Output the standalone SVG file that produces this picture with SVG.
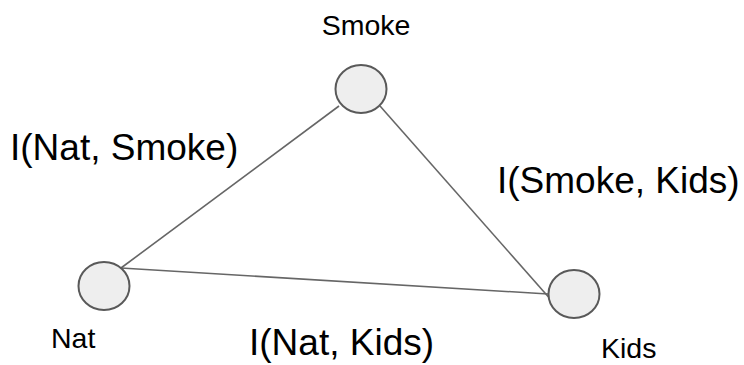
<svg xmlns="http://www.w3.org/2000/svg" width="744" height="365" viewBox="0 0 744 365">
  <style>
    .node { fill: #eeeeee; stroke: #595959; stroke-width: 2; }
    .edge { stroke: #666666; stroke-width: 1.6; fill: none; }
    .name { font-family: "Liberation Sans", Arial, sans-serif; font-size: 28.5px; fill: #000; }
    .mi { font-family: "Liberation Sans", Arial, sans-serif; font-size: 37px; fill: #000; }
  </style>
  <rect width="744" height="365" fill="#ffffff"/>
  <g id="connectors">
    <line class="edge" x1="121" y1="268" x2="339" y2="106"/>
    <line class="edge" x1="121" y1="268" x2="548" y2="294"/>
    <line class="edge" x1="380" y1="106" x2="552" y2="301"/>
  </g>
  <g id="node-smoke">
    <ellipse class="node" cx="361" cy="89" rx="25.5" ry="24"/>
    <text class="name" x="366" y="35" text-anchor="middle">Smoke</text>
  </g>
  <g id="node-nat">
    <ellipse class="node" cx="104" cy="286" rx="25.5" ry="24"/>
    <text class="name" x="51" y="348">Nat</text>
  </g>
  <g id="node-kids">
    <ellipse class="node" cx="574" cy="294" rx="25.5" ry="24"/>
    <text class="name" x="601" y="358">Kids</text>
  </g>
  <g id="edge-labels">
    <text class="mi" x="10" y="160">I(Nat, Smoke)</text>
    <text class="mi" x="497" y="193">I(Smoke, Kids)</text>
    <text class="mi" x="249" y="355">I(Nat, Kids)</text>
  </g>
</svg>
